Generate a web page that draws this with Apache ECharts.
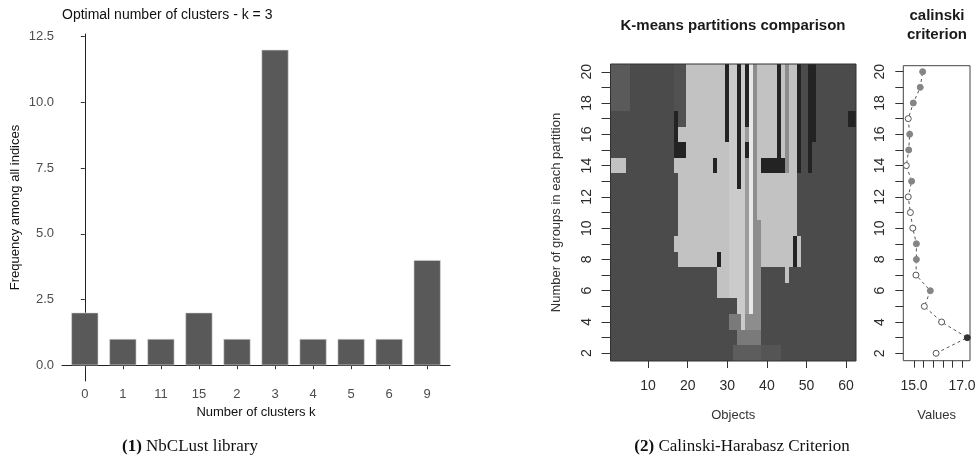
<!DOCTYPE html>
<html><head><meta charset="utf-8">
<script src="https://cdn.jsdelivr.net/npm/echarts@6/dist/echarts.min.js"></script>
<style>html,body{margin:0;padding:0;background:#fff}#c{width:980px;height:469px}</style>
</head><body><div id="c"></div>
<script>
// ---- Panel 1: NbClust frequencies ----
const clusterLabels = ['0','1','11','15','2','3','4','5','6','9'];
const clusterFrequency = [2,1,1,2,1,12,1,1,1,4];
const freqTicks = [0,2.5,5,7.5,10,12.5];

// ---- Panel 2: K-means partitions (objects 1..62, k = 2..20) ----
const objectIds = Array.from({length:62},(_,i)=>String(i+1));
const partitionK = ['2','3','4','5','6','7','8','9','10','11','12','13','14','15','16','17','18','19','20'];
// runs of objects [from, to, shade] painted over the dark background, per k
const partitionRuns = {
 20:[[1,5,'d'],[17,19,'m'],[20,29,'L'],[30,30,'B'],[31,32,'l'],[33,33,'B'],[34,34,'l'],[35,35,'B'],[36,36,'W'],[37,37,'H'],[38,42,'L'],[43,43,'B'],[44,44,'L'],[45,45,'H'],[46,47,'L'],[48,48,'B'],[51,52,'B']],
 19:[[1,5,'d'],[17,19,'m'],[20,29,'L'],[30,30,'B'],[31,32,'l'],[33,33,'B'],[34,34,'l'],[35,35,'B'],[36,36,'W'],[37,37,'H'],[38,42,'L'],[43,43,'B'],[44,44,'L'],[45,45,'H'],[46,47,'L'],[48,48,'B'],[51,52,'B']],
 18:[[1,5,'d'],[17,19,'m'],[20,29,'L'],[30,30,'B'],[31,32,'l'],[33,33,'B'],[34,34,'l'],[35,35,'B'],[36,36,'W'],[37,37,'H'],[38,42,'L'],[43,43,'B'],[44,44,'L'],[45,45,'H'],[46,47,'L'],[48,48,'B'],[51,52,'B']],
 17:[[17,17,'B'],[18,19,'m'],[20,29,'L'],[30,30,'B'],[31,32,'l'],[33,33,'B'],[34,34,'l'],[35,35,'B'],[36,36,'W'],[37,37,'H'],[38,42,'L'],[43,43,'B'],[44,44,'L'],[45,45,'H'],[46,47,'L'],[48,48,'B'],[51,52,'B'],[61,62,'B']],
 16:[[17,17,'B'],[18,29,'L'],[30,30,'B'],[31,32,'l'],[33,33,'B'],[34,34,'l'],[35,35,'g'],[36,36,'W'],[37,37,'H'],[38,42,'L'],[43,43,'B'],[44,44,'L'],[45,45,'H'],[46,47,'L'],[48,48,'B'],[51,52,'B']],
 15:[[17,19,'B'],[20,30,'L'],[31,32,'l'],[33,33,'B'],[34,34,'l'],[35,35,'B'],[36,36,'W'],[37,37,'H'],[38,42,'L'],[43,43,'B'],[44,44,'L'],[45,45,'H'],[46,47,'L'],[48,48,'B'],[51,51,'B']],
 14:[[1,4,'L'],[17,26,'L'],[27,27,'B'],[28,30,'L'],[31,32,'l'],[33,33,'B'],[34,34,'l'],[35,35,'g'],[36,36,'W'],[37,37,'H'],[38,38,'L'],[39,44,'B'],[45,45,'H'],[46,47,'L'],[48,48,'B'],[51,51,'B']],
 13:[[18,30,'L'],[31,32,'l'],[33,33,'B'],[34,34,'l'],[35,35,'g'],[36,36,'W'],[37,37,'H'],[38,47,'L']],
 12:[[18,30,'L'],[31,34,'l'],[35,35,'g'],[36,36,'W'],[37,37,'H'],[38,47,'L']],
 11:[[18,30,'L'],[31,34,'l'],[35,35,'g'],[36,36,'W'],[37,37,'H'],[38,47,'L']],
 10:[[18,30,'L'],[31,34,'l'],[35,35,'g'],[36,36,'W'],[37,38,'H'],[39,47,'L']],
 9:[[17,30,'L'],[31,34,'l'],[35,35,'g'],[36,36,'W'],[37,38,'H'],[39,46,'L'],[47,47,'B'],[48,48,'L']],
 8:[[18,27,'L'],[28,28,'B'],[29,30,'L'],[31,34,'l'],[35,35,'g'],[36,36,'W'],[37,38,'H'],[39,46,'L'],[47,47,'B'],[48,48,'L']],
 7:[[28,30,'L'],[31,34,'l'],[35,35,'g'],[36,36,'W'],[37,38,'H'],[45,45,'L']],
 6:[[28,30,'L'],[31,34,'l'],[35,35,'g'],[36,36,'W'],[37,38,'H']],
 5:[[33,34,'l'],[35,35,'g'],[36,36,'W'],[37,38,'H']],
 4:[[31,33,'G'],[34,34,'l'],[35,38,'H']],
 3:[[33,38,'G']],
 2:[[32,38,'e'],[39,43,'f']]
};
const shadeColors = {D:'#4b4b4b',d:'#5a5a5a',m:'#515151',e:'#5d5d5d',f:'#555555',G:'#7a7a7a',H:'#8d8d8d',g:'#9c9c9c',L:'#c2c2c2',l:'#cbcbcb',W:'#e8e8e8',B:'#232323'};

// ---- Panel 3: calinski criterion ----
const calinskiK = [2,3,4,5,6,7,8,9,10,11,12,13,14,15,16,17,18,19,20];
const calinskiValues = [15.92,17.22,16.15,15.43,15.68,15.08,15.10,15.10,14.95,14.85,14.76,14.90,14.68,14.78,14.82,14.76,14.97,15.26,15.36];
const calinskiMarker = ['open','max','open','open','filled','open','filled','filled','open','open','open','filled','open','filled','filled','open','filled','filled','filled'];
const valueTicks = [15,15.4,15.8,16.2,16.6,17];
const valueLabels = [15,17];
const groupTicks = [2,3,4,5,6,7,8,9,10,11,12,13,14,15,16,17,18,19,20];
const groupLabels = [2,4,6,8,10,12,14,16,18,20];

// build heatmap cells
const shadeKeys = Object.keys(shadeColors);
const heatData = [];
partitionK.forEach((k, yi) => {
  const row = new Array(objectIds.length).fill('D');
  (partitionRuns[k] || []).forEach(([a,b,c]) => { for (let i=a;i<=b;i++) row[i-1]=c; });
  row.forEach((c, xi) => heatData.push([xi, yi, shadeKeys.indexOf(c)]));
});

const markerStyle = {
  open:{color:'#ffffff',borderColor:'#555',borderWidth:1},
  filled:{color:'#858585',borderColor:'#858585',borderWidth:1},
  max:{color:'#333',borderColor:'#333',borderWidth:1}
};

const SANS = '"Liberation Sans", Arial, sans-serif';
const SERIF = '"Liberation Serif", "Times New Roman", serif';
function txt(x,y,text,size,weight,color,family){
  return {type:'text',x:x,y:y,silent:true,style:{text:text,fill:color||'#111',fontSize:size,fontWeight:weight||'normal',fontFamily:family||SANS,align:'center',verticalAlign:'middle',textAlign:'center',textVerticalAlign:'middle'}};
}

function renderCell(params, api){
  const c = api.coord([api.value(0), api.value(1)]);
  const s = api.size([1,1]);
  const x0 = Math.round(c[0]-s[0]/2), x1 = Math.round(c[0]+s[0]/2);
  const y0 = Math.round(c[1]-s[1]/2), y1 = Math.round(c[1]+s[1]/2);
  return {type:'rect', shape:{x:x0, y:y0, width:x1-x0, height:y1-y0},
          style:{fill:shadeColors[shadeKeys[api.value(2)]], stroke:null}};
}

const chart = echarts.init(document.getElementById('c'), null, {renderer:'canvas'});
chart.setOption({
  animation:false,
  backgroundColor:'#fff',
  grid:[
    {left:62, top:34, width:388, height:347, show:false},
    {left:610.5, top:64, width:245.5, height:297, show:false},
    {left:903.3, top:65.7, width:66.7, height:295, show:true, borderColor:'#444', borderWidth:1, backgroundColor:'transparent'}
  ],
  xAxis:[
    {type:'value', gridIndex:0, min:-0.6, max:9.6,
     axisLine:{show:true, lineStyle:{color:'#222',width:1}},
     axisTick:{show:true, customValues:[0,1,2,3,4,5,6,7,8,9], length:4, lineStyle:{color:'#333'}},
     axisLabel:{customValues:[0,1,2,3,4,5,6,7,8,9], formatter:v=>clusterLabels[Math.round(v)], fontSize:13, color:'#4d4d4d', margin:7, fontFamily:SANS},
     splitLine:{show:false},
     name:'Number of clusters k', nameLocation:'middle', nameGap:25, nameTextStyle:{fontSize:13,color:'#111',fontFamily:SANS}},
    {type:'category', gridIndex:1, data:objectIds, boundaryGap:true,
     axisLine:{show:false},
     axisTick:{show:true, alignWithLabel:true, interval:(i)=> (i+1)%10===0, length:7, lineStyle:{color:'#333'}},
     axisLabel:{interval:(i)=> (i+1)%10===0, fontSize:14, color:'#2a2a2a', margin:18, fontFamily:SANS},
     splitLine:{show:false},
     name:'Objects', nameLocation:'middle', nameGap:48, nameTextStyle:{fontSize:13,color:'#333',fontFamily:SANS}},
    {type:'value', gridIndex:2, min:14.554, max:17.333,
     axisLine:{show:false},
     axisTick:{show:true, customValues:valueTicks, length:7, lineStyle:{color:'#333'}},
     axisLabel:{customValues:valueLabels, formatter:v=>v.toFixed(1), fontSize:14, color:'#2a2a2a', margin:18, fontFamily:SANS},
     splitLine:{show:false},
     name:'Values', nameLocation:'middle', nameGap:48, nameTextStyle:{fontSize:13,color:'#333',fontFamily:SANS}}
  ],
  yAxis:[
    {type:'value', gridIndex:0, min:-0.6, max:12.6,
     axisLine:{show:true, lineStyle:{color:'#222',width:1}},
     axisTick:{show:true, customValues:freqTicks, length:4, lineStyle:{color:'#333'}},
     axisLabel:{customValues:freqTicks, formatter:v=>v.toFixed(1), fontSize:13, color:'#4d4d4d', margin:8, fontFamily:SANS},
     splitLine:{show:false},
     name:'Frequency among all indices', nameLocation:'middle', nameGap:40, nameTextStyle:{fontSize:13,color:'#111',fontFamily:SANS}},
    {type:'category', gridIndex:1, data:partitionK, boundaryGap:true,
     axisLine:{show:false},
     axisTick:{show:true, alignWithLabel:true, interval:0, length:9, lineStyle:{color:'#333'}},
     axisLabel:{interval:(i,v)=> Number(v)%2===0, rotate:90, fontSize:14, color:'#2a2a2a', margin:16, fontFamily:SANS},
     splitLine:{show:false},
     name:'Number of groups in each partition', nameLocation:'middle', nameGap:48, nameTextStyle:{fontSize:13,color:'#333',fontFamily:SANS}},
    {type:'value', gridIndex:2, min:1.527, max:20.384,
     axisLine:{show:false},
     axisTick:{show:true, customValues:groupTicks, length:8, lineStyle:{color:'#333'}},
     axisLabel:{customValues:groupLabels, rotate:90, fontSize:14, color:'#2a2a2a', margin:16, fontFamily:SANS},
     splitLine:{show:false}}
  ],
  series:[
    {type:'bar', xAxisIndex:0, yAxisIndex:0, data:clusterFrequency.map((v,i)=>[i,v]), barWidth:27,
     itemStyle:{color:'#595959', borderColor:'#d8d8d8', borderWidth:0.6}, silent:true},
    {type:'custom', xAxisIndex:1, yAxisIndex:1, data:heatData, silent:true, renderItem:renderCell,
     encode:{x:0, y:1}, clip:true},
    {type:'line', xAxisIndex:2, yAxisIndex:2, silent:true, symbol:'circle', symbolSize:6, showAllSymbol:true,
     lineStyle:{color:'#555', width:1, type:[3,3]},
     data: calinskiK.map((k,i)=>({value:[calinskiValues[i],k], itemStyle:markerStyle[calinskiMarker[i]]}))}
  ],
  graphic:[
    {type:'rect', silent:true, z:10, shape:{x:610.5, y:64, width:245.5, height:297}, style:{fill:'none', stroke:'#333', lineWidth:1}},
    {type:'text', left:62, top:8, silent:true, style:{text:'Optimal number of clusters - k = 3', fill:'#111', fontSize:14, fontFamily:SANS}},
    txt(733, 26, 'K-means partitions comparison', 15, 'bold', '#1a1a1a'),
    txt(937, 16, 'calinski', 15, 'bold', '#1a1a1a'),
    txt(937, 35, 'criterion', 15, 'bold', '#1a1a1a'),
    {type:'text', x:190, y:447, silent:true, style:{text:'{b|(1)} NbCLust library', fill:'#111', fontSize:17, fontFamily:SERIF, align:'center', verticalAlign:'middle', textAlign:'center', textVerticalAlign:'middle', rich:{b:{fontWeight:'bold', fontSize:17, fontFamily:SERIF}}}},
    {type:'text', x:742, y:447, silent:true, style:{text:'{b|(2)} Calinski-Harabasz Criterion', fill:'#111', fontSize:17, fontFamily:SERIF, align:'center', verticalAlign:'middle', textAlign:'center', textVerticalAlign:'middle', rich:{b:{fontWeight:'bold', fontSize:17, fontFamily:SERIF}}}}
  ]
});
</script></body></html>
